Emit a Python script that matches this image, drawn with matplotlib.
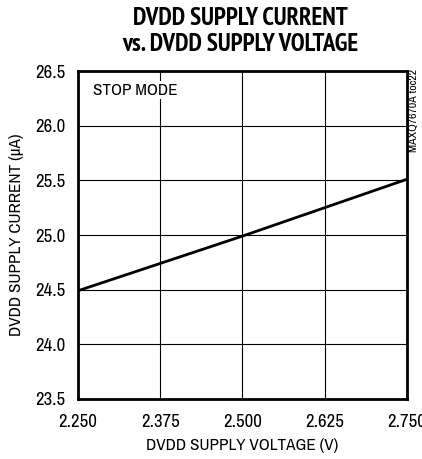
import matplotlib
matplotlib.use("Agg")
import matplotlib.pyplot as plt
from matplotlib import font_manager
from matplotlib.font_manager import FontProperties

# data
voltage = [2.25, 2.375, 2.5, 2.625, 2.75]
current = [24.49, 24.74, 24.99, 25.25, 25.51]
x_ticks = [2.25, 2.375, 2.5, 2.625, 2.75]
x_labels = ['2.250', '2.375', '2.500', '2.625', '2.750']
y_ticks = [23.5, 24.0, 24.5, 25.0, 25.5, 26.0, 26.5]


def find_font(bold):
    # narrow / condensed face if the system has one
    best = None
    for f in font_manager.fontManager.ttflist:
        if not ('Narrow' in f.fname or 'Condensed' in f.fname):
            continue
        if 'Oblique' in f.fname or 'Italic' in f.fname:
            continue
        w = f.weight if isinstance(f.weight, int) else 400
        if (w >= 600) == bold:
            if best is None or ('Narrow' in f.fname and 'Narrow' not in best):
                best = f.fname
    return best


reg = find_font(False)
bld = find_font(True)
fp = FontProperties(fname=reg) if reg else FontProperties(family='DejaVu Sans')
fpb = FontProperties(fname=bld) if bld else FontProperties(family='DejaVu Sans', weight='bold')

fig = plt.figure(figsize=(4.22, 4.59), dpi=100)
ax = fig.add_axes([0.185, 0.131, 0.779, 0.714])

ax.plot(voltage, current, color='black', lw=2.0, solid_capstyle='butt', zorder=3)

ax.set_xlim(2.25, 2.75)
ax.set_ylim(23.5, 26.5)
ax.set_xticks(x_ticks)
ax.set_xticklabels(x_labels, fontproperties=fp, fontsize=13.5)
ax.set_yticks(y_ticks)
ax.set_yticklabels([f'{v:.1f}' for v in y_ticks], fontproperties=fp, fontsize=13.5)
ax.tick_params(axis='x', length=0, pad=11)
ax.tick_params(axis='y', length=0, pad=9)
ax.grid(True, color='black', lw=0.8)
for s in ax.spines.values():
    s.set_linewidth(2.0)

ax.set_xlabel('DVDD SUPPLY VOLTAGE (V)', fontproperties=fp, fontsize=12.3, labelpad=6)
ax.set_ylabel('DVDD SUPPLY CURRENT (\u00b5A)', fontproperties=fp, fontsize=12.3, labelpad=8)

ax.text(0.045, 0.965, 'STOP MODE', transform=ax.transAxes, fontproperties=fp,
        fontsize=12.3, va='top', ha='left', zorder=4,
        bbox=dict(facecolor='white', edgecolor='none', pad=1))

fig.text(0.992, 0.85, 'MAXQ7670A toc22', rotation=90, fontproperties=fp,
         fontsize=8.5, va='top', ha='right')

fig.text(0.57, 0.985, 'DVDD SUPPLY CURRENT\nvs. DVDD SUPPLY VOLTAGE',
         ha='center', va='top', fontproperties=fpb, fontsize=18,
         linespacing=1.2)

fig.savefig('out.png', dpi=100)
